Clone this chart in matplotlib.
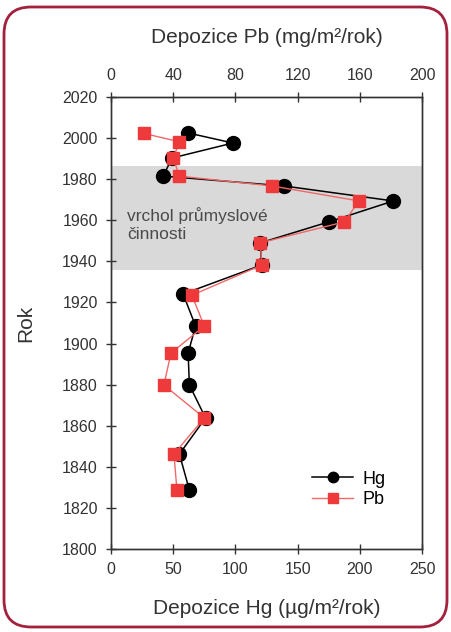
import matplotlib
matplotlib.use("Agg")
import matplotlib.pyplot as plt
from matplotlib.patches import FancyBboxPatch
from matplotlib.lines import Line2D

plt.rcParams['font.family'] = ['Liberation Sans', 'DejaVu Sans']

years_hg = [2002.5, 1997.6, 1990.3, 1981.5, 1976.7, 1969.4, 1959.2, 1949, 1938.2,
            1924.1, 1908.5, 1895.4, 1879.8, 1863.8, 1846.2, 1828.7]
hg = [62, 98, 49, 42, 139, 227, 175, 120, 121, 58, 68, 62, 63, 76, 55, 63]

years_pb = [2002.3, 1998.2, 1990.3, 1981.5, 1976.7, 1969.4, 1959.2, 1949, 1938.2,
            1923.5, 1908.5, 1895.4, 1879.8, 1863.8, 1846.2, 1828.7]
pb = [21, 44, 40, 44, 103.5, 159.5, 150, 96, 97, 52, 60, 38.6, 34, 60, 40.5, 42.4]

shade_years = (1935.8, 1986.4)
year_ticks = list(range(1800, 2021, 20))
hg_ticks = [0, 50, 100, 150, 200, 250]
pb_ticks = [0, 40, 80, 120, 160, 200]

TXT = '#333333'
RED_LINE = '#f06868'
RED_MARK = '#ee3a3a'

fig = plt.figure(figsize=(4.51, 6.32), dpi=100)
fig.patch.set_facecolor('white')

border = FancyBboxPatch((4/451, 5/632), 443/451, 620/632,
                        boxstyle="round,pad=0,rounding_size=0.06",
                        transform=fig.transFigure, facecolor='none',
                        edgecolor='#a3213d', linewidth=2.0, zorder=10,
                        mutation_aspect=451/632)
fig.patches.append(border)

ax = fig.add_axes([111/451, 1 - 549/632, 311/451, 452/632])
ax.set_facecolor('none')
ax.axhspan(shade_years[0], shade_years[1], color='#d9d9d9', zorder=0, lw=0)

ax.plot(hg, years_hg, color='black', lw=1.1, marker='o', markersize=10,
        markerfacecolor='black', markeredgecolor='black', zorder=3)
ax.set_xlim(0, 250)
ax.set_ylim(1800, 2020)
ax.set_xticks(hg_ticks)
ax.set_yticks(year_ticks)

ax2 = ax.twiny()
ax2.plot(pb, years_pb, color=RED_LINE, lw=1.0, marker='s', markersize=9,
         markerfacecolor=RED_MARK, markeredgecolor=RED_MARK, zorder=4)
ax2.set_xlim(0, 200)
ax2.set_xticks(pb_ticks)

for a in (ax, ax2):
    for s in a.spines.values():
        s.set_color('#333333')
        s.set_linewidth(1.0)
    a.tick_params(direction='inout', length=7, width=1, colors='#333333',
                  labelsize=11.5, labelcolor=TXT)
ax.tick_params(axis='x', pad=6)
ax.tick_params(axis='y', pad=6)
ax2.tick_params(axis='x', pad=6.5)

ax.set_xlabel('Depozice Hg (µg/m²/rok)', fontsize=15, color=TXT, labelpad=16)
ax2.set_xlabel('Depozice Pb (mg/m²/rok)', fontsize=15, color=TXT, labelpad=18)
ax.set_ylabel('Rok', fontsize=15, color=TXT, labelpad=19)

ax.text(13, 1957.7, 'vrchol průmyslové\nčinnosti', fontsize=12.5, color='#4a4a4a',
        va='center', ha='left', linespacing=1.25, zorder=2)

handles = [Line2D([], [], color='black', lw=1.1, marker='o', markersize=7.5),
           Line2D([], [], color=RED_LINE, lw=1.0, marker='s', markersize=6.5,
                  markerfacecolor=RED_MARK, markeredgecolor=RED_MARK)]
ax.legend(handles, ['Hg', 'Pb'], loc='center left', bbox_to_anchor=(0.646, 0.132),
          frameon=False, fontsize=13, handlelength=2.3, handletextpad=0.5,
          labelspacing=0.2, borderpad=0, borderaxespad=0)

fig.savefig('out.png', dpi=100)
